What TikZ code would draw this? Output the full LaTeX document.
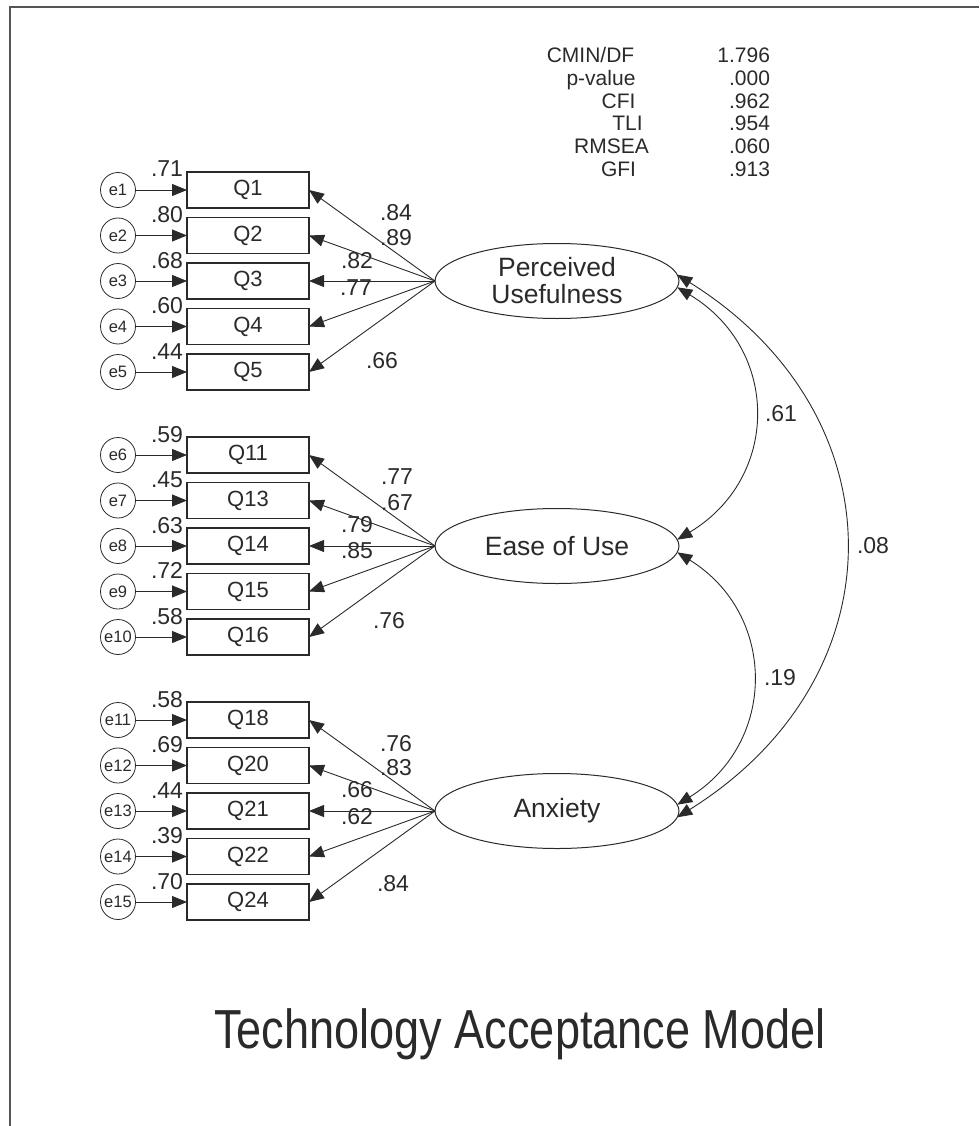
\documentclass[tikz,border=0pt]{standalone}
\usepackage{fontspec}
\setmainfont{Liberation Sans}
\usetikzlibrary{arrows.meta,shapes.geometric}

\definecolor{ink}{HTML}{2A2A2A}
\definecolor{framecol}{HTML}{555555}

% one observed indicator: box, its error term, the error arrow and the variance label
% #1 y, #2 indicator name, #3 error index, #4 squared multiple correlation, #5 latent factor
\newcommand\semitem[5]{%
  \node[obs] (#2) at (248,#1) {#2};
  \node[err] (e#3) at (118,#1) {e#3};
  \draw[tip] (e#3) -- (#2);
  \node[val, anchor=base east] (v#3) at (183,#1-13) {#4};
  \draw[tip] (#5.west) -- (#2.east);
}

\begin{document}
\begin{tikzpicture}[x=1pt,y=-1pt,
  every node/.style={inner sep=0pt, outer sep=0pt, text=ink},
  obs/.style={draw=ink, line width=1.1pt, minimum width=122pt, minimum height=36pt,
    font=\fontsize{22}{24}\selectfont},
  lat/.style={ellipse, draw=ink, line width=1pt, minimum width=244pt, minimum height=75pt,
    align=center, font=\fontsize{26.5}{27}\selectfont},
  err/.style={circle, draw=ink, line width=0.8pt, minimum size=35pt,
    font=\fontsize{16.5}{17}\selectfont},
  val/.style={font=\fontsize{23}{24}\selectfont},
  stat/.style={font=\fontsize{21}{22}\selectfont},
  tip/.style={draw=ink, line width=0.9pt, -{Triangle[length=15pt,width=12pt]}},
  cov/.style={draw=ink, line width=0.9pt,
    {Triangle[length=15pt,width=12pt]}-{Triangle[length=15pt,width=12pt]}},
  frame/.style={draw=framecol, line width=2pt}
]
\useasboundingbox (0,0) rectangle (979,1126);

% open frame: top and left edges
\draw[frame] (10,1126) -- (10,7) -- (979,7);

% latent factors
\node[lat] (PU)  at (557,281) {Perceived\\Usefulness};
\node[lat] (EOU) at (557,546) {Ease of Use};
\node[lat] (ANX) at (557,811) {Anxiety};

% indicators
\semitem{190}{Q1}{1}{.71}{PU}
\semitem{235.5}{Q2}{2}{.80}{PU}
\semitem{281}{Q3}{3}{.68}{PU}
\semitem{326.5}{Q4}{4}{.60}{PU}
\semitem{372}{Q5}{5}{.44}{PU}

\semitem{455}{Q11}{6}{.59}{EOU}
\semitem{500.5}{Q13}{7}{.45}{EOU}
\semitem{546}{Q14}{8}{.63}{EOU}
\semitem{591.5}{Q15}{9}{.72}{EOU}
\semitem{637}{Q16}{10}{.58}{EOU}

\semitem{720}{Q18}{11}{.58}{ANX}
\semitem{765.5}{Q20}{12}{.69}{ANX}
\semitem{811}{Q21}{13}{.44}{ANX}
\semitem{856.5}{Q22}{14}{.39}{ANX}
\semitem{902}{Q24}{15}{.70}{ANX}

% standardized loadings
\node[val] (l1) at (396,213) {.84};
\node[val] (l2) at (396,238) {.89};
\node[val] (l3) at (357,261) {.82};
\node[val] (l4) at (356,288) {.77};
\node[val] (l5) at (382,361) {.66};

\node[val] (l6) at (397,477) {.77};
\node[val] (l7) at (397,503) {.67};
\node[val] (l8) at (357,525) {.79};
\node[val] (l9) at (357,551) {.85};
\node[val] (l10) at (389,621) {.76};

\node[val] (l11) at (396,744) {.76};
\node[val] (l12) at (396,768) {.83};
\node[val] (l13) at (357,790) {.66};
\node[val] (l14) at (357,817) {.62};
\node[val] (l15) at (393,884) {.84};

% factor correlations
\draw[cov] (PU.-3.8)  .. controls +(103,62) and +(103,-62) .. (EOU.3.8);
\draw[cov] (EOU.-3.8) .. controls +(100,62) and +(100,-62) .. (ANX.3.8);
\draw[cov] (PU.3.8)   .. controls +(224,140) and +(224,-140) .. (ANX.-3.8);
\node[val] (c1) at (781,414) {.61};
\node[val] (c2) at (780,678) {.19};
\node[val] (c3) at (873,546) {.08};

% fit indices
\node[stat, anchor=base] (s1) at (590.5,63)   {CMIN/DF};
\node[stat, anchor=base] (s2) at (601,85.7)   {p-value};
\node[stat, anchor=base] (s3) at (618.5,108.4) {CFI};
\node[stat, anchor=base] (s4) at (627.5,131)  {TLI};
\node[stat, anchor=base] (s5) at (611.5,153.8) {RMSEA};
\node[stat, anchor=base] (s6) at (618.5,176.5) {GFI};
\node[stat, anchor=base east] (f1) at (770,63)    {1.796};
\node[stat, anchor=base east] (f2) at (770,85.7)  {.000};
\node[stat, anchor=base east] (f3) at (770,108.4) {.962};
\node[stat, anchor=base east] (f4) at (770,131)   {.954};
\node[stat, anchor=base east] (f5) at (770,153.8) {.060};
\node[stat, anchor=base east] (f6) at (770,176.5) {.913};

% title
\node[anchor=base, font=\fontsize{55}{60}\selectfont] (title) at (520,1048)
  {\scalebox{0.82}[1]{Technology Acceptance Model}};
\end{tikzpicture}
\end{document}
